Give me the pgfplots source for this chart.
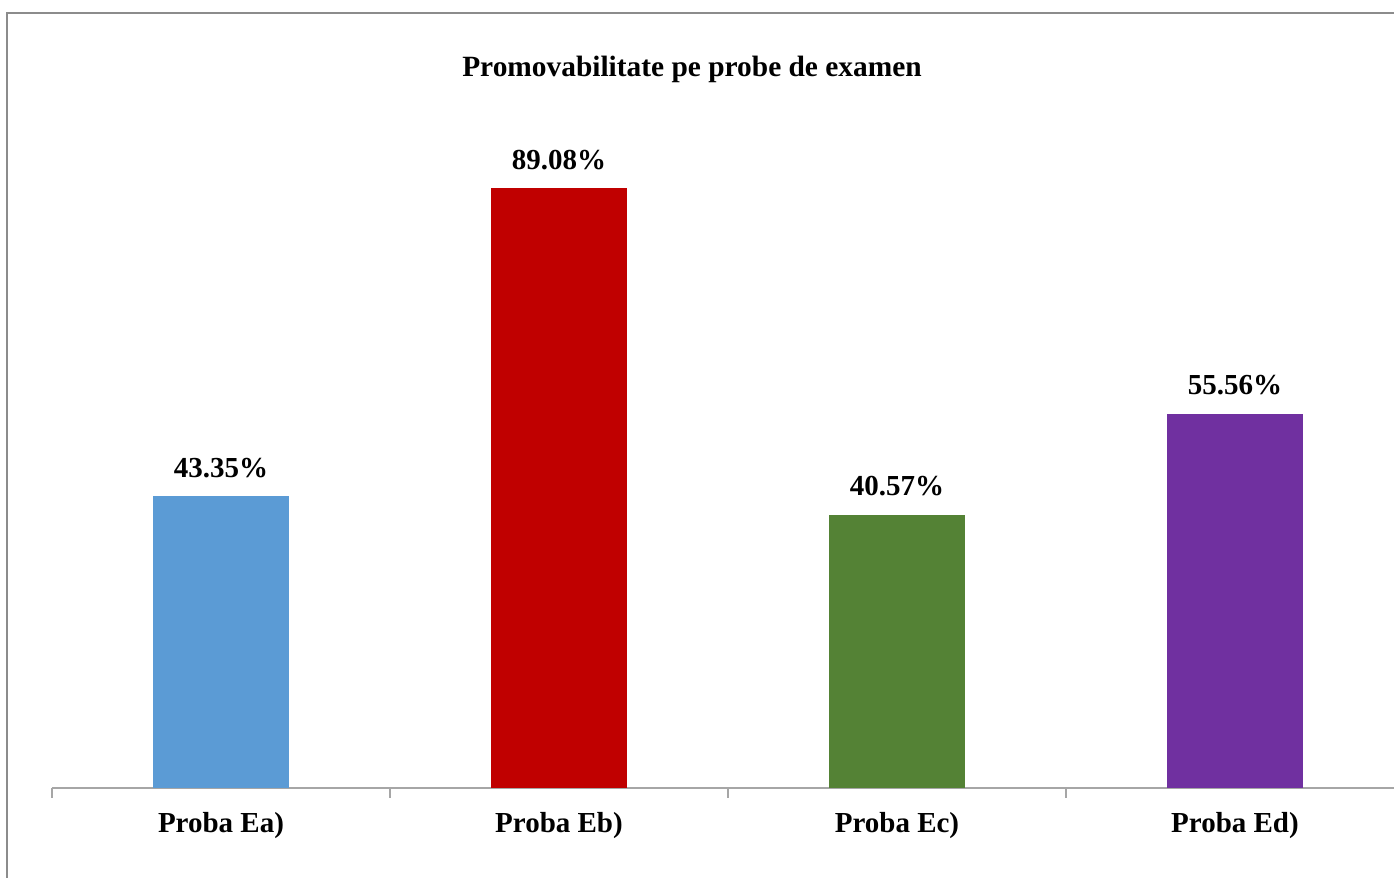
\documentclass[border=0pt]{standalone}
\usepackage{fontspec}
\setmainfont{Liberation Serif}
\usepackage{pgfplots}
\pgfplotsset{compat=1.18}
\definecolor{cA}{HTML}{5B9BD5}
\definecolor{cB}{HTML}{C00000}
\definecolor{cC}{HTML}{548235}
\definecolor{cD}{HTML}{7030A0}
\definecolor{frameg}{HTML}{8C8C8C}
\definecolor{axisg}{HTML}{A6A6A6}
\begin{document}
\begin{tikzpicture}
\path[use as bounding box] (0,0) rectangle (697pt,439pt);
\draw[frameg, line width=1pt] (3.5pt,-5pt) -- (3.5pt,432.5pt) -- (705pt,432.5pt);
\node[font=\bfseries\fontsize{14.7}{17}\selectfont, inner sep=0pt] at (346pt,404.5pt) {Promovabilitate pe probe de examen};
\begin{axis}[
  at={(26pt,45pt)}, anchor=south west,
  scale only axis, width=676pt, height=336.75pt,
  xmin=-0.5, xmax=3.5, ymin=0, ymax=100,
  axis x line*=bottom, axis y line=none,
  axis line style={axisg, line width=0.6pt},
  x axis line style={-},
  ybar, bar width=68pt, bar shift=0pt,
  xtick={0,1,2,3},
  xticklabels={Proba Ea),Proba Eb),Proba Ec),Proba Ed)},
  major tick length=0pt,
  xticklabel style={font=\bfseries\fontsize{14.5}{17}\selectfont, anchor=north, inner sep=0pt, yshift=-12pt},
  extra x ticks={-0.5,0.5,1.5,2.5,3.5},
  extra x tick labels={},
  extra x tick style={major tick length=5pt, tick align=outside, tick style={axisg, line width=0.6pt}},
  clip=false,
  nodes near coords={\pgfmathprintnumber[fixed,precision=2,fixed zerofill,assume math mode=true]{\pgfplotspointmeta}\%},
  every node near coord/.append style={font=\bfseries\fontsize{14.5}{17}\selectfont, anchor=south, inner sep=0pt, yshift=9pt, black},
  point meta=y,
]
\addplot[fill=cA, draw=none] coordinates {(0,43.35)};
\addplot[fill=cB, draw=none] coordinates {(1,89.08)};
\addplot[fill=cC, draw=none] coordinates {(2,40.57)};
\addplot[fill=cD, draw=none] coordinates {(3,55.56)};
\end{axis}
\end{tikzpicture}
\end{document}
